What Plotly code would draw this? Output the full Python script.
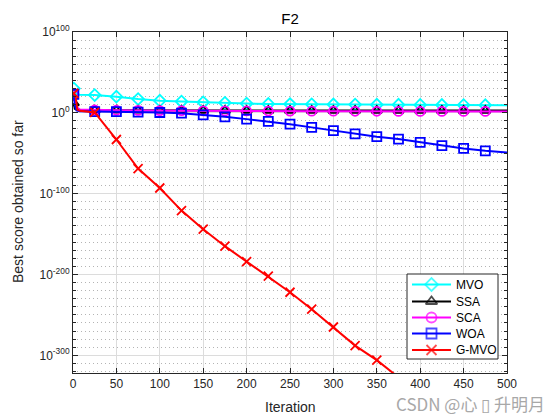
import plotly.graph_objects as go

# ---------------- data ----------------
iterations = [1, 2, 4, 8, 25, 50, 75, 100, 125, 150, 175, 200, 225, 250,
              275, 300, 325, 350, 375, 400, 425, 450, 475, 500]

mvo = [1e30, 1e26, 1e23, 3e22, 1e22, 1e20, 1e17, 1e15, 1e14, 1e13, 2.5e12,
       3e11, 1e11, 6e10, 4e10, 2.5e10, 1.6e10, 1e10, 1e10, 6e9, 5e9, 4e9,
       3e9, 3e9]
ssa = [1e12, 1e5, 1e4, 3e3, 1.6e3, 1.2e3, 1e3, 1e3, 1e3, 8e2, 8e2, 8e2,
       6e2, 6e2, 6e2, 6e2, 6e2, 6e2, 6e2, 6e2, 6e2, 6e2, 6e2, 6e2]
sca = [1e22, 1e15, 1e7, 1e4, 3e3, 1.6e3, 1e3, 6e2, 4e2, 3e2, 2.5e2, 2e2,
       1.6e2, 1.3e2, 1e2, 1e2, 8e1, 8e1, 6e1, 6e1, 6e1, 6e1, 6e1, 6e1]
woa = [1e23, 1e10, 1e3, 1e2, 4e1, 3e1, 8, 2.5, 0.4, 3e-3, 1e-5, 1.6e-8,
       2e-11, 1e-14, 1e-18, 1e-22, 1e-26, 3e-30, 3e-33, 3e-37, 3e-41,
       1e-44, 1e-47, 1e-49]

gmvo_iterations = [1, 3, 5, 8, 25, 50, 75, 100, 125, 150, 175, 200, 225,
                   250, 275, 300, 325, 350, 370]
gmvo = [1e24, 1e20, 1e4, 3e2, 3, 1e-33, 1e-69, 1e-93, 1e-121, 1e-144,
        1e-165, 1e-184, 1e-202, 1e-222, 1e-243, 1e-265, 1e-288, 1e-306,
        1e-323]

names = ["MVO", "SSA", "SCA", "WOA", "G-MVO"]
colors = ["#00FFFF", "#000000", "#FF00FF", "#0000FF", "#FF0000"]
symbols = ["diamond-open", "triangle-up-open", "circle-open", "square-open",
           "x-thin-open"]

y_ticks = [1e-300, 1e-200, 1e-100, 1e0, 1e100]
y_ticktext = ["10<sup>-300</sup>", "10<sup>-200</sup>", "10<sup>-100</sup>",
              "10<sup>0</sup>", "10<sup>100</sup>"]

# ---------------- figure geometry (pixels) ----------------
W, H = 560, 420
L, R, T, B = 73, 53, 32, 47
PW, PH = W - L - R, H - T - B

# legend box geometry in pixels (MATLAB-style legend drawn by hand)
LEG_X0, LEG_X1, LEG_Y0, LEG_Y1 = 407, 498, 274, 359
LEG_LINE_X0, LEG_LINE_X1, LEG_TEXT_X = 412, 451, 454
LEG_ROW_Y = [284.5, 301.5, 317.5, 333.5, 350]


def px_x(p):
    return (p - L) / PW


def px_y(p):
    return (H - B - p) / PH


axis_col = "#262626"
fig = go.Figure()

series = [(iterations, mvo), (iterations, ssa), (iterations, sca),
          (iterations, woa), (gmvo_iterations, gmvo)]

for (xs, ys), name, col, sym in zip(series, names, colors, symbols):
    fig.add_trace(go.Scatter(x=xs, y=ys, mode="lines",
                             line=dict(color=col, width=2),
                             showlegend=False, hoverinfo="skip"))
    mx = [x for x in xs if (x == 1 or x % 25 == 0) and x < 500]
    my = [y for x, y in zip(xs, ys) if x in mx]
    fig.add_trace(go.Scatter(x=mx, y=my, mode="markers",
                             marker=dict(symbol=sym, size=9,
                                         color=col,
                                         line=dict(color=col, width=1.8)),
                             showlegend=False, hoverinfo="skip"))

# legend box (overlay axes measured in pixels)
fig.add_trace(go.Scatter(
    x=[LEG_X0, LEG_X1, LEG_X1, LEG_X0, LEG_X0],
    y=[LEG_Y0, LEG_Y0, LEG_Y1, LEG_Y1, LEG_Y0],
    mode="lines", fill="toself", fillcolor="white",
    line=dict(color=axis_col, width=1),
    xaxis="x2", yaxis="y2", showlegend=False, hoverinfo="skip"))

annotations = []
for name, col, sym, ry in zip(names, colors, symbols, LEG_ROW_Y):
    fig.add_trace(go.Scatter(
        x=[LEG_LINE_X0, (LEG_LINE_X0 + LEG_LINE_X1) / 2, LEG_LINE_X1],
        y=[ry, ry, ry], mode="lines+markers",
        line=dict(color=col, width=2),
        marker=dict(symbol=sym, size=[0, 10, 0], color=col,
                    line=dict(color=col, width=1.8)),
        xaxis="x2", yaxis="y2", showlegend=False, hoverinfo="skip"))
    annotations.append(dict(
        text=name, x=LEG_TEXT_X, y=ry, xref="x2", yref="y2",
        showarrow=False, xanchor="left", yanchor="middle",
        font=dict(family="Liberation Sans", size=12, color="#000000")))

minor_vals = [10.0 ** e for e in range(-320, 101, 10) if e % 100 != 0]

fig.update_xaxes(range=[0, 500], dtick=50, tick0=0,
                 showline=True, linecolor=axis_col, linewidth=1,
                 mirror="ticks", ticks="inside", ticklen=5,
                 tickcolor=axis_col,
                 showgrid=True, gridcolor="#dcdcdc", gridwidth=1,
                 zeroline=False,
                 tickfont=dict(family="Liberation Sans", size=12,
                               color=axis_col))

fig.update_yaxes(type="log", range=[-321.9, 100],
                 tickvals=y_ticks, ticktext=y_ticktext,
                 showline=True, linecolor=axis_col, linewidth=1,
                 mirror="allticks", ticks="inside", ticklen=5,
                 tickcolor=axis_col,
                 showgrid=True, gridcolor="#dcdcdc", gridwidth=1,
                 zeroline=False,
                 minor=dict(tickvals=minor_vals, ticks="inside", ticklen=3,
                            tickcolor=axis_col, showgrid=True,
                            gridcolor="#b4b4b4", griddash="1px,3px",
                            gridwidth=1),
                 tickfont=dict(family="Liberation Sans", size=12,
                               color=axis_col))

annotations += [
    dict(text="Iteration", x=px_x(290), y=px_y(407), xref="paper",
         yref="paper", showarrow=False, xanchor="center",
         yanchor="middle",
         font=dict(family="Liberation Sans", size=14, color=axis_col)),
    dict(text="Best score obtained so far", x=px_x(18), y=px_y(202),
         xref="paper", yref="paper", showarrow=False, textangle=-90,
         xanchor="center", yanchor="middle",
         font=dict(family="Liberation Sans", size=14, color=axis_col)),
    dict(text="CSDN @心 ▯ 升明月", x=px_x(547), y=px_y(403),
         xref="paper", yref="paper", showarrow=False, xanchor="right",
         yanchor="middle",
         font=dict(family="Noto Sans CJK SC", size=17, color="#a8a8a8")),
]

fig.update_layout(
    width=W, height=H,
    margin=dict(l=L, r=R, t=T, b=B, autoexpand=False),
    paper_bgcolor="white", plot_bgcolor="white",
    font=dict(family="Liberation Sans", color=axis_col),
    showlegend=False,
    xaxis2=dict(overlaying="x", anchor="y2", range=[L, W - R],
                visible=False, fixedrange=True),
    yaxis2=dict(overlaying="y", anchor="x2", range=[H - B, T],
                visible=False, fixedrange=True),
    title=dict(text="F2", x=px_x(L + PW / 2), xref="paper",
               y=1 - 19 / H, yref="container", xanchor="center",
               yanchor="middle",
               font=dict(family="Liberation Sans", size=15, color="#000000")),
    annotations=annotations,
)

fig.write_html("out.html",
               config={"displayModeBar": False, "staticPlot": True},
               post_script="document.body.style.margin='0';"
                           "document.body.style.padding='0';")
